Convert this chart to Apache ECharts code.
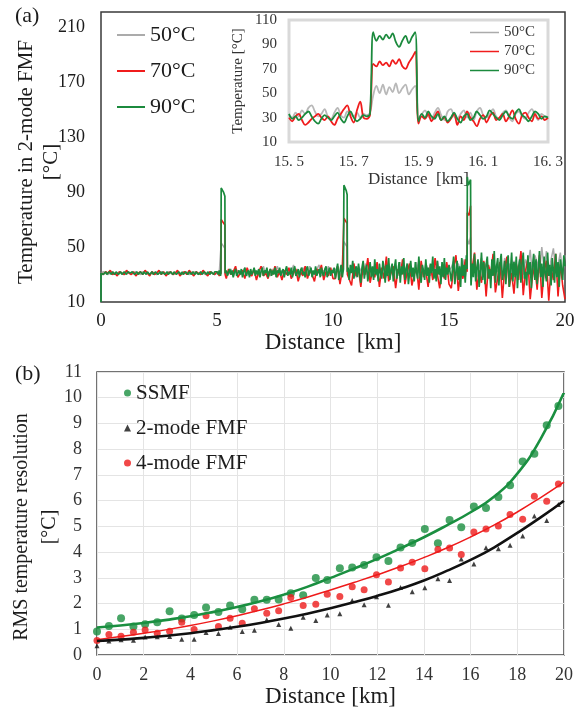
<!DOCTYPE html>
<html><head><meta charset="utf-8">
<script src="https://cdn.jsdelivr.net/npm/echarts/dist/echarts.min.js"></script>
<style>html,body{margin:0;padding:0;background:#fff}#c{width:586px;height:709px}</style>
</head><body><div id="c"></div>
<script>
// ---------- Panel (a): main traces (0 .. 20 km) ----------
const mainStart = 0;
const step90 = 0.05;   // 90°C trace read every 0.05 km
const step70 = 0.1, step50 = 0.1;
const main90 = [
31,32,30,31,32,30,31,32,31,30, 32,31,30,32,31,30,31,32,30,31, 32,31,30,32,31,31,30,32,31,30, 31,32,30,31,32,31,30,32,31,30, 32,31,30,31,32,30,31,32,31,30, 31,32,30,32,31,30,31,32,30,31, 32,31,30,32,31,30,31,32,31,30, 32,30,31,32,31,30,32,31,30,32, 31,30,32,31,30,31,32,30,31,32, 31,30,32,31,30,32,31,30,32,31, 32,
30,33,29,32,34,29,31,33,29,32, 34,30,33,28,32,34,29,31,33,30, 34,28,32,35,29,31,33,28,34,30, 32,35,29,33,30,34,28,32,35,29, 33,31,35,28,32,34,29,33,30,35, 28,33,31,35,29,32,34,28,33,36, 29,32,30,35,28,33,36,29,31,34, 28,33,35,30,32,28,34,36,29,32, 35,28,33,30,36,29,32,34,28,35, 31,29,34,36,28,32,35,29,33,31,
35,27,33,38,26,32,37,28,34,25, 38,30,35,26,37,31,40,27,33,36, 28,38,30,24,35,40,27,33,37,25, 32,39,28,36,26,41,30,34,25,38, 31,27,40,34,24,37,29,42,26,33, 38,25,35,41,27,32,39,24,36,30, 42,26,34,38,23,31,40,28,35,25, 39,32,27,43,30,24,37,33,26,41, 29,35,24,38,31,43,27,34,25,40, 30,36,23,39,28,42,26,35,30,37,
38,25,34,43,23,31,40,26,36,21, 42,29,37,24,44,27,33,41,22,38, 28,45,25,35,41,21,32,46,26,39, 23,37,43,27,34,20,41,29,47,24, 36,42,22,38,45,26,31,40,23,37, 44,21,33,46,25,39,28,43,20,35, 41,24,38,46,27,32,22,44,30,39, 20,36,45,26,41,23,34,47,28,38, 21,43,31,25,46,29,37,22,42,33, 24,45,28,39,21,41,34,26,44,36];
const main70 = [
31,30,32,31,33,30,31,29,32,31, 30,33,31,30,32,29,31,32,30,33, 31,29,32,30,31,33,30,32,29,31, 32,30,31,33,29,31,32,30,33,31, 29,32,31,30,33,31,29,32,31,30, 32,
29,33,31,27,34,30,32,36,28,31, 33,27,35,30,29,34,26,32,36,29, 31,27,34,30,36,28,32,26,33,30, 35,27,31,34,25,32,29,36,27,33, 30,25,34,31,37,26,32,29,35,27,
27,36,23,33,40,26,31,22,38,29, 34,21,37,30,42,24,33,28,39,21, 35,27,43,25,31,36,20,34,29,41, 23,32,38,22,30,35,19,40,28,33, 21,37,26,42,30,20,35,27,39,23,
20,35,44,18,31,27,41,15,36,29, 46,19,33,24,40,14,37,30,45,17, 28,39,13,34,43,21,31,16,38,26, 47,15,33,41,12,29,36,19,44,13, 32,40,11,35,26,45,14,38,22,12];
const main50 = [
31,32,31,30,31,32,30,31,32,31, 30,31,32,30,31,32,31,30,32,31, 31,30,32,31,30,31,32,31,30,32, 31,30,31,32,31,30,32,31,30,31, 32,31,30,32,31,30,31,32,31,30, 31,
32,29,33,31,30,34,29,32,33,30, 31,35,29,32,30,34,31,29,33,36, 30,32,29,34,31,36,30,33,29,35, 31,32,37,29,33,30,35,31,29,36, 32,30,34,37,29,33,31,36,30,34,
33,36,29,34,31,37,29,35,32,28, 36,33,30,38,28,34,32,37,29,35, 31,36,28,38,33,30,36,29,39,32, 35,29,37,33,28,39,31,36,30,38, 34,29,37,33,40,30,35,29,38,33,
35,40,29,38,33,41,28,36,39,31, 40,28,35,42,30,38,33,27,41,35, 32,39,29,42,34,38,28,40,33,37, 46,30,41,36,48,28,44,39,31,50, 34,47,29,41,49,33,37,46,30,44];
// hot spots [km, °C]
const spots90 = [
  [[5.17,31],[5.18,93],[5.22,92],[5.28,90],[5.34,87],[5.35,31]],
  [[10.46,33],[10.47,95],[10.52,93],[10.57,91],[10.61,88],[10.62,32]],
  [[15.78,34],[15.79,101],[15.83,95],[15.88,97],[15.93,99],[15.94,30]]];
const spots70 = [
  [[5.17,31],[5.18,70],[5.26,68],[5.34,66],[5.35,30]],
  [[10.46,32],[10.47,71],[10.54,69],[10.61,67],[10.62,30]],
  [[15.78,32],[15.79,75],[15.86,73],[15.93,80],[15.94,28]]];
const spots50 = [
  [[5.17,31],[5.18,53],[5.26,51],[5.34,49],[5.35,31]],
  [[10.46,33],[10.47,54],[10.54,52],[10.61,50],[10.62,32]],
  [[15.78,35],[15.79,56],[15.86,52],[15.93,57],[15.94,30]]];
const lead90 = [[0,10]];

// ---------- Panel (a) inset: 15.50 .. 16.30 km every 0.01 km ----------
const insetStart = 15.5, insetStep = 0.01;
const inset90 = [
33,29,31,28,30,33,35,31,27,25, 29,32,30,28,31,34,29,26,31,35, 30,27,29,32,31,33,
100,93,97,94,98,95,99,92,88,93,97,91,96,100,
27,33,30,35,31,29,33,28,31,27, 30,34,29,26,31,33,28,30,35,32, 29,31,36,33,30,28,32,35,31,29, 34,37,32,30,27,31,35,33,29,31, 30];
const inset70 = [
30,27,31,33,28,24,26,29,31,33, 30,28,31,27,24,29,33,37,40,31, 26,36,43,30,29,32,
74,72,76,73,75,72,77,74,78,72,70,75,79,84,
25,31,29,33,27,31,35,28,30,26, 29,33,24,31,28,35,30,27,23,29, 32,26,31,34,28,30,33,27,31,36, 29,25,32,34,30,27,33,29,31,28, 30];
const inset50 = [
32,30,34,31,36,33,38,40,35,31, 33,37,31,29,34,38,32,30,35,33, 31,34,30,33,32,34,
48,56,50,57,49,55,51,58,50,54,57,49,53,56,
30,33,36,31,29,34,38,32,28,35, 37,31,29,33,36,30,34,28,35,38, 32,30,33,37,31,29,34,36,30,27, 33,35,31,29,34,37,32,28,33,31, 29];
const tempNames = ['50°C','70°C','90°C'];

// ---------- Panel (b) ----------
const pointKm = [0,0.51,1.03,1.56,2.06,2.58,3.11,3.63,4.16,4.67,5.2,5.7,6.22,6.74,7.27,7.78,8.3,8.83,9.37,9.86,10.4,10.93,11.44,11.97,12.48,13.0,13.5,14.04,14.6,15.1,15.6,16.14,16.66,17.19,17.69,18.23,18.73,19.26,19.76];
const ssmfPts = [0.92,1.13,1.43,1.11,1.2,1.28,1.7,1.42,1.56,1.85, 1.67,1.93,1.78,2.15,2.15,2.16,2.4,2.33,3.0,2.92, 3.37,3.4,3.5,3.8,3.66,4.18,4.36,4.9,4.35,5.25, 4.97,5.77,5.72,6.14,6.6,7.52,7.82,8.93,9.68];
const fmf2Pts = [0.36,0.55,0.6,0.58,0.7,0.71,0.72,0.62,0.62,0.88, 0.84,1.08,0.92,0.97,1.37,1.19,1.04,1.47,1.34,1.56, 1.61,2.12,1.96,2.27,1.94,2.63,2.46,2.62,2.97,2.9, 3.73,3.54,4.17,4.13,4.27,4.63,5.4,5.23,5.85];
const fmf4Pts = [0.57,0.8,0.73,0.89,0.98,0.85,0.93,1.28,0.99,1.53, 1.11,1.43,1.24,1.8,1.63,1.72,2.24,1.93,1.98,2.36, 2.28,2.66,2.54,3.12,2.84,3.38,3.61,3.36,4.1,4.16, 3.91,4.78,4.9,5.02,5.46,5.28,6.17,5.98,6.65];
const fitKm = [0,1,2,3,4,5,6,7,8,9,10,11,12,13,14,15,16,17,18,19,20];
const ssmfFit = [1.07,1.15,1.25,1.37,1.51,1.68,1.87,2.09,2.35,2.65,3.0,3.36,3.74,4.15,4.58,5.05,5.55,6.15,7.05,8.4,10.2];
const fmf4Fit = [0.6,0.72,0.85,0.99,1.15,1.33,1.53,1.75,1.99,2.25,2.53,2.82,3.12,3.44,3.79,4.17,4.59,5.05,5.56,6.12,6.72];
const fmf2Fit = [0.55,0.6,0.67,0.75,0.85,0.97,1.1,1.25,1.42,1.61,1.82,2.05,2.3,2.58,2.9,3.28,3.7,4.18,4.75,5.35,6.0];

// ---------- helpers ----------
function sampled(vals, x0, step){ return vals.map((v,i)=>[Math.round((x0+i*step)*1000)/1000, v]); }
function withSpots(base, spots, lead){
  let pts = base.filter(p => !spots.some(s => p[0] >= s[0][0] && p[0] <= s[s.length-1][0]));
  spots.forEach(s => { pts = pts.concat(s); });
  pts.sort((a,b)=>a[0]-b[0]);
  return (lead || []).concat(pts);
}
function pairs(xs, ys){ return xs.map((x,i)=>[x, ys[i]]); }

const SERIF = '"Liberation Serif","Times New Roman",serif';
const TXT = '#1c1c1c';
const C50 = '#ababab', C70 = '#f01c1c', C90 = '#1b8a3d';
const BG = '#1a8f40', BR = '#ee1a1a', BK = '#111111';

const chart = echarts.init(document.getElementById('c'), null, {renderer:'canvas'});
const option = {
  animation:false,
  backgroundColor:'#fff',
  grid:[
    {left:101, top:12, width:464, height:290, show:true, borderColor:'#3a3a3a', borderWidth:1.5, backgroundColor:'transparent'},
    {left:289, top:20, width:259, height:122, show:true, borderColor:'#d9d9d9', borderWidth:3, backgroundColor:'#fff', z:5},
    {left:97, top:372, width:467, height:286, show:true, borderColor:'#444', borderWidth:1.5}
  ],
  xAxis:[
    {gridIndex:0, type:'value', min:0, max:20, interval:5,
     axisLine:{show:false}, axisTick:{show:false}, splitLine:{show:false},
     axisLabel:{fontFamily:SERIF, fontSize:19, color:TXT, margin:10},
     name:'Distance  [km]', nameLocation:'middle', nameGap:27,
     nameTextStyle:{fontFamily:SERIF, fontSize:23, color:TXT}},
    {gridIndex:1, type:'value', min:15.5, max:16.3, interval:0.2,
     axisLine:{show:false}, axisTick:{show:false}, splitLine:{show:false},
     axisLabel:{fontFamily:SERIF, fontSize:15, color:'#333', margin:13, formatter:v=>v.toFixed(1).replace('.', '. ')},
     name:'Distance  [km]', nameLocation:'middle', nameGap:27,
     nameTextStyle:{fontFamily:SERIF, fontSize:17, color:'#333'}},
    {gridIndex:2, type:'value', min:0, max:20, interval:2,
     axisLine:{show:false}, axisTick:{show:false},
     splitLine:{show:true, lineStyle:{color:'#e4e4e4', width:1}},
     axisLabel:{fontFamily:SERIF, fontSize:18, color:'#333', margin:11},
     name:'Distance [km]', nameLocation:'middle', nameGap:26,
     nameTextStyle:{fontFamily:SERIF, fontSize:23, color:TXT}}
  ],
  yAxis:[
    {gridIndex:0, type:'value', min:10, max:221, interval:40,
     axisLine:{show:false}, axisTick:{show:false}, splitLine:{show:false},
     axisLabel:{fontFamily:SERIF, fontSize:18, color:TXT, margin:16, showMaxLabel:false}},
    {gridIndex:1, type:'value', min:10, max:110, interval:20,
     axisLine:{show:false}, axisTick:{show:false}, splitLine:{show:false},
     axisLabel:{fontFamily:SERIF, fontSize:15, color:'#333', margin:12}},
    {gridIndex:2, type:'value', min:0, max:11, interval:1,
     axisLine:{show:false}, axisTick:{show:false},
     splitLine:{show:true, lineStyle:{color:'#e4e4e4', width:1}},
     axisLabel:{fontFamily:SERIF, fontSize:18, color:'#333', margin:15}}
  ],
  legend:[
    {data:tempNames, orient:'vertical', left:117, top:24, padding:0, icon:'rect', itemWidth:28, itemHeight:2, itemGap:14,
     textStyle:{fontFamily:SERIF, fontSize:22, lineHeight:22, color:TXT}, selectedMode:false},
    {data:tempNames, orient:'vertical', left:470, top:25, padding:0, icon:'rect', itemWidth:29, itemHeight:1.5, itemGap:4, z:10,
     textStyle:{fontFamily:SERIF, fontSize:15, lineHeight:15, color:'#333'}, selectedMode:false},
    {data:[{name:'SSMF', icon:'circle'},{name:'2-mode FMF', icon:'triangle'},{name:'4-mode FMF', icon:'circle'}],
     orient:'vertical', left:124, top:382, padding:0, itemWidth:7, itemHeight:7, itemGap:13,
     textStyle:{fontFamily:SERIF, fontSize:21, lineHeight:22, color:TXT}, selectedMode:false}
  ],
  graphic:[
    {type:'text', x:15, y:16, style:{text:'(a)', font:'22px '+SERIF, fill:TXT, verticalAlign:'middle'}},
    {type:'text', x:15, y:374, style:{text:'(b)', font:'22px '+SERIF, fill:TXT, verticalAlign:'middle'}},
    {type:'text', x:39, y:162, rotation:Math.PI/2,
     style:{text:'Temperature in 2-mode FMF\n[°C]', font:'21px '+SERIF, fill:TXT, align:'center', verticalAlign:'middle', lineHeight:25}},
    {type:'text', x:238, y:81, rotation:Math.PI/2, z:10,
     style:{text:'Temperature [°C]', font:'15px '+SERIF, fill:'#333', align:'center', verticalAlign:'middle'}},
    {type:'text', x:36, y:527, rotation:Math.PI/2,
     style:{text:'RMS temperature resolution\n[°C]', font:'20px '+SERIF, fill:TXT, align:'center', verticalAlign:'middle', lineHeight:28}}
  ],
  series:[
    {name:'50°C', type:'line', xAxisIndex:0, yAxisIndex:0, symbol:'none', color:C50, lineStyle:{color:C50, width:1.5},
     data:withSpots(sampled(main50, mainStart, step50), spots50)},
    {name:'70°C', type:'line', xAxisIndex:0, yAxisIndex:0, symbol:'none', color:C70, lineStyle:{color:C70, width:1.6},
     data:withSpots(sampled(main70, mainStart, step70), spots70)},
    {name:'90°C', type:'line', xAxisIndex:0, yAxisIndex:0, symbol:'none', color:C90, lineStyle:{color:C90, width:1.7, join:'bevel'},
     data:withSpots(sampled(main90, mainStart, step90), spots90, lead90)},
    {name:'50°C', type:'line', xAxisIndex:1, yAxisIndex:1, symbol:'none', smooth:0.35, z:6, color:C50, lineStyle:{color:'#b8b8b8', width:1.8},
     data:sampled(inset50, insetStart, insetStep)},
    {name:'70°C', type:'line', xAxisIndex:1, yAxisIndex:1, symbol:'none', smooth:0.35, z:7, color:C70, lineStyle:{color:C70, width:1.8},
     data:sampled(inset70, insetStart, insetStep)},
    {name:'90°C', type:'line', xAxisIndex:1, yAxisIndex:1, symbol:'none', smooth:0.35, z:8, color:C90, lineStyle:{color:C90, width:1.8},
     data:sampled(inset90, insetStart, insetStep)},
    {name:'SSMF fit', type:'line', xAxisIndex:2, yAxisIndex:2, symbol:'none', smooth:0.5, lineStyle:{color:BG, width:2.6},
     data:pairs(fitKm, ssmfFit)},
    {name:'4-mode fit', type:'line', xAxisIndex:2, yAxisIndex:2, symbol:'none', smooth:0.5, lineStyle:{color:BR, width:1.5},
     data:pairs(fitKm, fmf4Fit)},
    {name:'2-mode fit', type:'line', xAxisIndex:2, yAxisIndex:2, symbol:'none', smooth:0.5, lineStyle:{color:BK, width:2.6},
     data:pairs(fitKm, fmf2Fit)},
    {name:'SSMF', type:'scatter', xAxisIndex:2, yAxisIndex:2, symbol:'circle', symbolSize:8, itemStyle:{color:BG},
     data:pairs(pointKm, ssmfPts)},
    {name:'2-mode FMF', type:'scatter', xAxisIndex:2, yAxisIndex:2, symbol:'triangle', symbolSize:5, itemStyle:{color:BK},
     data:pairs(pointKm, fmf2Pts)},
    {name:'4-mode FMF', type:'scatter', xAxisIndex:2, yAxisIndex:2, symbol:'circle', symbolSize:7, itemStyle:{color:BR},
     data:pairs(pointKm, fmf4Pts)}
  ]
};
chart.setOption(option);
</script></body></html>
